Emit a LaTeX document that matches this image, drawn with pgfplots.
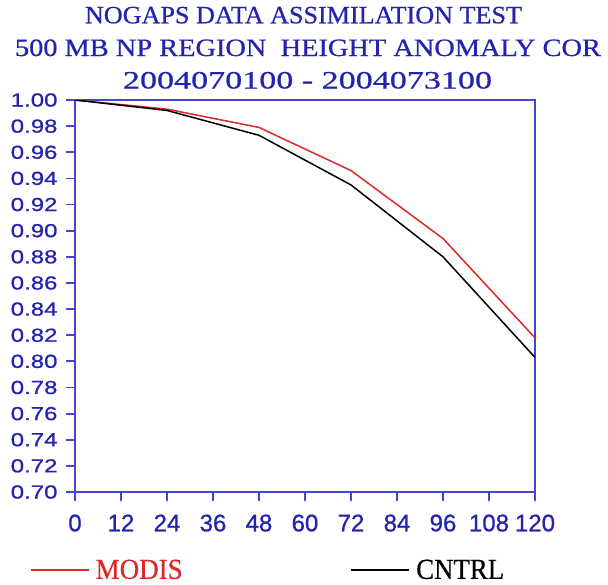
\documentclass[border=0pt]{standalone}
\usepackage{fontspec}
\usepackage{graphicx}
\usepackage{pgfplots}
\pgfplotsset{compat=1.18}
\setmainfont{Liberation Serif}
\newfontfamily\titlefont[FakeBold=0.6]{Liberation Serif}
\newfontfamily\xtickfont[FakeBold=0.8]{Liberation Sans}
\newfontfamily\ytickfont[FakeStretch=1.27,FakeBold=0.8]{Liberation Sans}
\definecolor{axisblue}{RGB}{70,70,210}
\definecolor{txtblue}{RGB}{35,35,175}
\definecolor{modisred}{RGB}{220,40,40}
\begin{document}
\begin{tikzpicture}
\useasboundingbox (0pt,0pt) rectangle (608pt,-584pt);
\begin{axis}[
  at={(75pt,-492pt)}, anchor=south west,
  scale only axis, width=460pt, height=392pt,
  xmin=0, xmax=120, ymin=0.70, ymax=1.00,
  xtick={0,12,24,36,48,60,72,84,96,108,120},
  ytick={0.70,0.72,0.74,0.76,0.78,0.80,0.82,0.84,0.86,0.88,0.90,0.92,0.94,0.96,0.98,1.00},
  axis line style={axisblue, line width=2pt},
  tick style={axisblue, line width=1.8pt},
  tick align=outside, major tick length=9pt,
  xtick pos=bottom, ytick pos=left,
  yticklabel style={font=\ytickfont\fontsize{18.9}{20}\selectfont, text=txtblue, xshift=-5pt,
     /pgf/number format/fixed, /pgf/number format/fixed zerofill,
     /pgf/number format/precision=2, /pgf/number format/assume math mode=true},
  xticklabel style={font=\xtickfont\fontsize{24}{25}\selectfont, text=txtblue, yshift=-10pt,
     /pgf/number format/assume math mode=true},
  legend columns=2,
  legend style={at={(-0.0978,-0.199)}, anchor=west, draw=none, fill=none,
     inner sep=0pt, font=\titlefont\fontsize{29}{30}\selectfont,
     /tikz/every even column/.append style={column sep=166pt}},
  legend image code/.code={\draw[#1] plot coordinates {(0pt,0pt) (58pt,0pt)};},
]
\addplot[modisred, line width=1.5pt] coordinates {
  (0,1.000) (24,0.993) (48,0.979) (72,0.946) (96,0.894) (120,0.818)};
\addlegendentry{\hspace{4pt}\textcolor{modisred}{\resizebox{87pt}{\height}{MODIS}}}
\addplot[black, line width=1.5pt] coordinates {
  (0,1.000) (24,0.992) (48,0.973) (72,0.935) (96,0.880) (120,0.803)};
\addlegendentry{\hspace{4pt}\textcolor{black}{\resizebox{88pt}{\height}{CNTRL}}}
\end{axis}
\node[anchor=base, text=txtblue, font=\titlefont\fontsize{25}{26}\selectfont, inner sep=0pt]
  at (303.5pt,-23.3pt) {\resizebox{437pt}{\height}{NOGAPS DATA ASSIMILATION TEST}};
\node[anchor=base, text=txtblue, font=\titlefont\fontsize{25}{26}\selectfont, inner sep=0pt]
  at (308pt,-56pt) {\resizebox{586pt}{\height}{500 MB NP REGION~~HEIGHT ANOMALY COR}};
\node[anchor=base, text=txtblue, font=\titlefont\fontsize{25}{26}\selectfont, inner sep=0pt]
  at (307.5pt,-88.5pt) {\resizebox{369pt}{\height}{2004070100 - 2004073100}};
\end{tikzpicture}
\end{document}
